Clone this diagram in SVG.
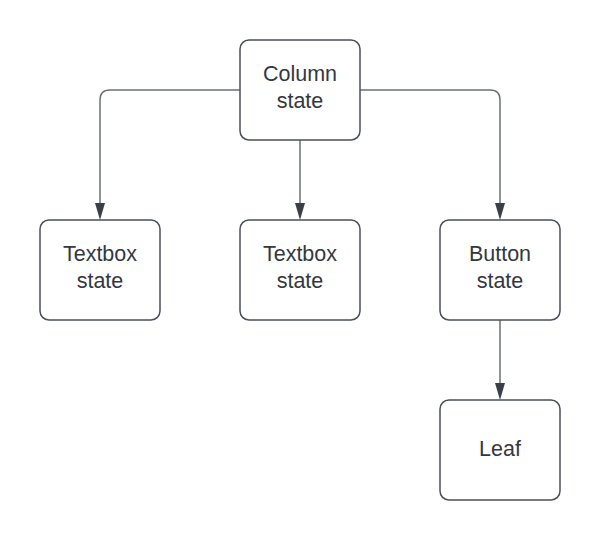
<svg xmlns="http://www.w3.org/2000/svg" width="600" height="540" viewBox="0 0 600 540">
<style>
.node rect{fill:#ffffff;stroke:#4b5058;stroke-width:1.5}
.node text{font-family:"Liberation Sans",Arial,sans-serif;font-size:21.5px;fill:#333840;text-anchor:middle}
.edge{fill:none;stroke:#6a6f78;stroke-width:1.5}
.head{fill:#3a3f47}
</style>
<rect width="600" height="540" fill="#ffffff"/>
<g id="connectors">
<path class="edge" d="M240,90 H110 Q100,90 100,100 V203"/>
<path class="head" d="M95,203 L105,203 L100,220 Z"/>
<path class="edge" d="M300,140 V203"/>
<path class="head" d="M295,203 L305,203 L300,220 Z"/>
<path class="edge" d="M360,90 H490 Q500,90 500,100 V203"/>
<path class="head" d="M495,203 L505,203 L500,220 Z"/>
<path class="edge" d="M500,320 V383"/>
<path class="head" d="M495,383 L505,383 L500,400 Z"/>
</g>
<g id="column" class="node">
<rect x="240" y="40" width="120" height="100" rx="9"/>
<text x="300" y="81">Column</text>
<text x="300" y="108">state</text>
</g>
<g id="textbox1" class="node">
<rect x="40" y="220" width="120" height="100" rx="9"/>
<text x="100" y="261">Textbox</text>
<text x="100" y="288">state</text>
</g>
<g id="textbox2" class="node">
<rect x="240" y="220" width="120" height="100" rx="9"/>
<text x="300" y="261">Textbox</text>
<text x="300" y="288">state</text>
</g>
<g id="button" class="node">
<rect x="440" y="220" width="120" height="100" rx="9"/>
<text x="500" y="261">Button</text>
<text x="500" y="288">state</text>
</g>
<g id="leaf" class="node">
<rect x="440" y="400" width="120" height="100" rx="9"/>
<text x="500" y="456">Leaf</text>
</g>
</svg>
